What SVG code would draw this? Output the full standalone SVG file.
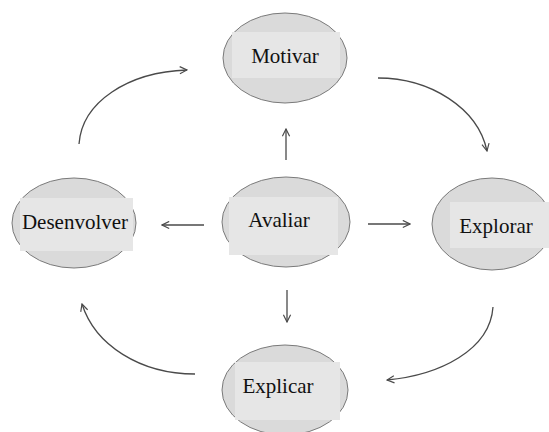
<svg xmlns="http://www.w3.org/2000/svg" width="549" height="432" viewBox="0 0 549 432">
  <defs>
    <style>
      .oval { fill: #dadada; stroke: #7a7a7a; stroke-width: 1; }
      .pad { fill: #e6e6e6; }
      .label { font-family: "Liberation Serif", "Times New Roman", serif; font-size: 21px; fill: #111; text-anchor: middle; }
      .link { fill: none; stroke: #4a4a4a; stroke-width: 1.3; marker-end: url(#chev); }
    </style>
    <marker id="chev" viewBox="0 0 10 10" refX="9" refY="5" markerWidth="9" markerHeight="9" markerUnits="userSpaceOnUse" orient="auto">
      <path d="M1,1 L9,5 L1,9" fill="none" stroke="#4a4a4a" stroke-width="1.3"/>
    </marker>
  </defs>
  <rect width="549" height="432" fill="#ffffff"/>

  <g id="connectors">
    <!-- central hub spokes -->
    <path class="link" d="M286,160 L286,129"/>
    <path class="link" d="M204,225 L162,225"/>
    <path class="link" d="M368,224 L410,224"/>
    <path class="link" d="M287,290 L287,322"/>
    <!-- outer cycle -->
    <path class="link" d="M79,144 C82,102 128,72 187,70"/>
    <path class="link" d="M378,78 C430,78 478,108 487,151"/>
    <path class="link" d="M493,307 C490,350 440,375 387,380"/>
    <path class="link" d="M195,374 C140,374 95,345 82,304"/>
  </g>

  <g id="motivar">
    <ellipse class="oval" cx="285" cy="58" rx="62" ry="45"/>
    <rect class="pad" x="232" y="32" width="108" height="46"/>
    <text class="label" x="285" y="63">Motivar</text>
  </g>

  <g id="desenvolver">
    <ellipse class="oval" cx="74" cy="223" rx="62" ry="45"/>
    <rect class="pad" x="20" y="198" width="113" height="53"/>
    <text class="label" x="75" y="229">Desenvolver</text>
  </g>

  <g id="avaliar">
    <ellipse class="oval" cx="286" cy="222" rx="64" ry="45"/>
    <rect class="pad" x="229" y="197" width="109" height="58"/>
    <text class="label" x="279" y="227">Avaliar</text>
  </g>

  <g id="explorar">
    <ellipse class="oval" cx="492" cy="224" rx="60" ry="46"/>
    <rect class="pad" x="450" y="202" width="99" height="46"/>
    <text class="label" x="496" y="233">Explorar</text>
  </g>

  <g id="explicar">
    <ellipse class="oval" cx="285" cy="390" rx="63" ry="45"/>
    <rect class="pad" x="235" y="362" width="105" height="58"/>
    <text class="label" x="278" y="393">Explicar</text>
  </g>
</svg>
